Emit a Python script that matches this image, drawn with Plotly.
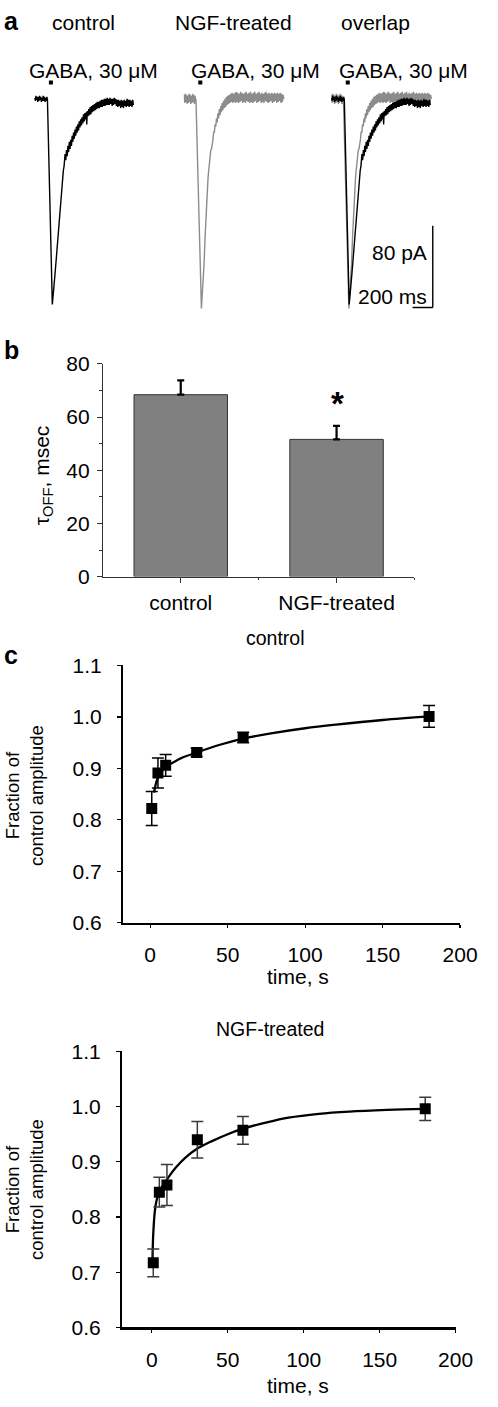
import plotly.graph_objects as go

W, H = 498, 1407
FONT = "Liberation Sans, Arial, Helvetica, sans-serif"


def fx(p):
    return p / W


def fy(p):
    return 1 - p / H


# ---------------- DATA ----------------
# panel a: GABA-evoked currents (time in ms, current in pA)
ctrl_trace = [
    (0, 1), (6, -2), (12, 3), (18, -1), (24, 2), (30, -3), (36, 2), (42, -2), (48, 3), (54, -1),
    (60, 2), (66, -3), (72, 1), (78, -2), (84, 3), (90, -2), (96, 2), (102, -3), (108, 1),
    (114, -2), (120, 2), (126, -1),
    (174, -201), (178, -195), (185, -190), (192, -181), (200, -172), (210, -160), (220, -147),
    (232, -132), (245, -116), (255, -103), (265, -90), (274, -80), (283, -70), (290, -66),
    (296, -61),
    (300, -54), (307, -60), (314, -50), (321, -56), (328, -46), (335, -52), (342, -42),
    (349, -49), (356, -40), (363, -46), (370, -36), (377, -42), (384, -33), (391, -39),
    (398, -30), (405, -36), (412, -27), (419, -33), (426, -25), (433, -31), (440, -22),
    (447, -28), (454, -20), (461, -26), (468, -18), (475, -24), (482, -15), (489, -22),
    (496, -14), (503, -20), (510, -13), (514, -25), (520, -12), (527, -17), (534, -10),
    (541, -16), (548, -8), (555, -15), (562, -7), (569, -13), (576, -6), (583, -12),
    (590, -5), (597, -11), (604, -4), (611, -10), (618, -3), (625, -9), (632, -3), (639, -9),
    (646, -2), (653, -8), (660, -1), (667, -8), (674, -1), (681, -7), (688, 0), (695, -7),
    (702, 0), (709, -6), (716, 1), (723, -6), (730, 0), (737, -6), (744, 1), (751, -5),
    (758, 0), (765, -7), (772, 0), (779, -6), (786, 1), (793, -5), (800, 0), (807, -7),
    (814, -1), (821, -8), (828, -1), (835, -7), (842, -2), (849, -9), (856, -1), (863, -8),
    (870, -2), (877, -9), (884, -1), (891, -7), (898, -2), (905, -8), (912, 0), (919, -7),
    (926, -1), (933, -8), (940, -1), (947, -7), (954, -2), (961, -8), (968, -1), (975, -6),
]
ngf_trace = [
    (0, 4), (6, -4), (12, 5), (18, -3), (24, 4), (30, -5), (36, 3), (42, -4), (48, 5), (54, -3),
    (60, 4), (66, -5), (72, 3), (78, -4), (84, 5), (90, -3), (96, 4), (102, -5), (108, 3),
    (114, -2), (117, 0),
    (171, -205), (176, -198), (182, -188), (190, -175), (197, -162), (206, -138), (215, -115),
    (222, -101), (230, -88), (236, -78), (243, -70), (250, -62), (257, -60), (264, -50),
    (271, -49), (278, -40), (285, -40), (292, -32), (299, -33), (306, -25), (313, -27),
    (320, -19), (327, -23), (334, -14), (341, -19), (348, -10), (355, -16), (362, -7),
    (369, -13), (376, -4), (383, -11), (390, -2), (397, -9), (404, 0), (411, -8), (418, 2),
    (425, -6), (432, 3), (439, -5), (446, 4), (453, -4), (460, 5), (467, -3), (474, 6),
    (481, -4), (488, 5), (495, -3), (502, 6), (509, -4), (516, 7), (523, -3), (530, 6),
    (537, -4), (544, 5), (551, -3), (558, 7), (565, -2), (572, 6), (579, -4), (586, 5),
    (593, -3), (600, 6), (607, -4), (614, 7), (621, -2), (628, 5), (635, -3), (642, 6),
    (649, -4), (656, 7), (663, -3), (670, 5), (677, -4), (684, 6), (691, -3), (698, 7),
    (705, -2), (712, 5), (719, -4), (726, 6), (733, -3), (740, 7), (747, -2), (754, 5),
    (761, -4), (768, 6), (775, -3), (782, 5), (789, -4), (796, 6), (803, -2), (810, 7),
    (817, -3), (824, 5), (831, -4), (838, 6), (845, -3), (852, 5), (859, -2), (866, 6),
    (873, -4), (880, 5), (887, -3), (894, 6), (901, -2), (908, 5), (915, -4), (922, 6),
    (929, -3), (936, 5), (943, -2), (950, 6), (957, -4), (964, 5), (971, -3), (978, 4),
    (985, 0),
]
gaba_pulse_ms = [140, 180]
scale_ms = 200
scale_pA = 80
panel_a_titles = ["control", "NGF-treated", "overlap"]
stim_label = "GABA, 30 μM"

# panel b: tau OFF
categories = ["control", "NGF-treated"]
tau_off = [68.4, 51.6]
tau_err = [5.4, 5.1]

# panel c: recovery
rec_time = [1, 5, 10, 30, 60, 180]
rec_ctrl = [0.822, 0.891, 0.906, 0.931, 0.960, 1.001]
rec_ctrl_err = [0.033, 0.029, 0.021, 0.008, 0.010, 0.021]
rec_ngf = [0.717, 0.845, 0.858, 0.940, 0.957, 0.996]
rec_ngf_err = [0.025, 0.027, 0.037, 0.033, 0.025, 0.021]
fit_ctrl_t = [2.5, 4, 6, 8, 10, 15, 20, 30, 45, 60, 80, 100, 120, 150, 180]
fit_ctrl_y = [0.853, 0.874, 0.888, 0.897, 0.903, 0.912, 0.920, 0.931, 0.946, 0.958,
              0.969, 0.978, 0.985, 0.994, 1.001]
fit_ngf_t = [0.5, 1, 2, 3, 4, 6, 9, 12, 16, 22, 30, 40, 50, 60, 75, 90, 110, 130, 155, 180]
fit_ngf_y = [0.726, 0.770, 0.810, 0.828, 0.838, 0.851, 0.864, 0.876, 0.890, 0.907,
             0.924, 0.938, 0.950, 0.960, 0.971, 0.980, 0.987, 0.991, 0.994, 0.996]

# ---------------- FIGURE ----------------
fig = go.Figure()
annotations = []
shapes = []

MS_PER_PX = 9.52
PX_PER_PA = 1.04
A_RANGE_X = [-5, 1010]
A_RANGE_Y = [-215, 25]
a_starts = [36, 191, 344]
a_base_py = 88.3
TRACE_W = 1.4

ct, ci = zip(*ctrl_trace)
nt, ni = zip(*ngf_trace)

layout_axes = {}
for k, x0 in enumerate(a_starts):
    n = k + 1
    xa = "x" if n == 1 else f"x{n}"
    ya = "y" if n == 1 else f"y{n}"
    dx0 = x0 + A_RANGE_X[0] / MS_PER_PX
    dx1 = x0 + A_RANGE_X[1] / MS_PER_PX
    dy_top = a_base_py - A_RANGE_Y[1] * PX_PER_PA
    dy_bot = a_base_py - A_RANGE_Y[0] * PX_PER_PA
    layout_axes["xaxis" if n == 1 else f"xaxis{n}"] = dict(
        domain=[fx(dx0), fx(dx1)], range=A_RANGE_X, visible=False, anchor=ya)
    layout_axes["yaxis" if n == 1 else f"yaxis{n}"] = dict(
        domain=[fy(dy_bot), fy(dy_top)], range=A_RANGE_Y, visible=False, anchor=xa)
    if n == 1:
        fig.add_trace(go.Scatter(x=ct, y=ci, mode="lines", line=dict(color="black", width=TRACE_W),
                                 xaxis=xa, yaxis=ya, showlegend=False))
    elif n == 2:
        fig.add_trace(go.Scatter(x=nt, y=ni, mode="lines", line=dict(color="#8c8c8c", width=TRACE_W),
                                 xaxis=xa, yaxis=ya, showlegend=False))
    else:
        fig.add_trace(go.Scatter(x=nt, y=ni, mode="lines", line=dict(color="#8c8c8c", width=TRACE_W),
                                 xaxis=xa, yaxis=ya, showlegend=False))
        fig.add_trace(go.Scatter(x=ct, y=ci, mode="lines", line=dict(color="black", width=TRACE_W),
                                 xaxis=xa, yaxis=ya, showlegend=False))
    shapes.append(dict(type="rect", xref=xa, yref=ya, x0=gaba_pulse_ms[0], x1=gaba_pulse_ms[1],
                       y0=14, y1=18, fillcolor="black", line=dict(width=0)))

# scale bars on overlap panel
shapes.append(dict(type="line", xref="x3", yref="y3", x0=1000, x1=1000, y0=-204, y1=-204 + scale_pA,
                   line=dict(color="black", width=1.5)))
shapes.append(dict(type="line", xref="x3", yref="y3", x0=1000 - scale_ms, x1=1000, y0=-204, y1=-204,
                   line=dict(color="black", width=1.5)))
annotations.append(dict(text=f"{scale_pA} pA", x=fx(445), y=fy(245), xref="paper", yref="paper",
                        xanchor="right", yanchor="middle", showarrow=False,
                        font=dict(size=21, color="black", family=FONT)))
annotations.append(dict(text=f"{scale_ms} ms", x=fx(445), y=fy(289), xref="paper", yref="paper",
                        xanchor="right", yanchor="middle", showarrow=False,
                        font=dict(size=21, color="black", family=FONT)))

for title, cx in zip(panel_a_titles, [87, 242.5, 390]):
    annotations.append(dict(text=title, x=fx(cx), y=fy(11), xref="paper", yref="paper",
                            xanchor="center", yanchor="middle", showarrow=False,
                            font=dict(size=21, color="black", family=FONT)))
for lx in [28, 196, 350]:
    annotations.append(dict(text=stim_label, x=fx(lx), y=fy(59), xref="paper", yref="paper",
                            xanchor="left", yanchor="middle", showarrow=False,
                            font=dict(size=21, color="black", family=FONT)))

# ---------- panel b ----------
xcat = list(range(len(categories)))
fig.add_trace(go.Bar(
    x=xcat, y=tau_off, width=0.6, marker=dict(color="#808080", line=dict(color="#333333", width=1)),
    error_y=dict(type="data", array=tau_err, arrayminus=[0] * len(tau_err), color="black",
                 thickness=2.2, width=3.5),
    xaxis="x4", yaxis="y4", showlegend=False))
layout_axes["xaxis4"] = dict(
    domain=[fx(106.7), fx(430)], range=[-0.5, 1.5], anchor="y4",
    tickvals=xcat, ticktext=categories, ticks="outside", ticklen=5, tickcolor="#333",
    showline=True, linecolor="#333", linewidth=1, showgrid=False, zeroline=False,
    minor=dict(tickvals=[0.5, 1.5], ticks="outside", ticklen=2, tickcolor="#333"),
    tickfont=dict(size=21, color="black", family=FONT), ticklabelstandoff=2)
layout_axes["yaxis4"] = dict(
    domain=[fy(574), fy(357.7)], range=[0, 80], anchor="x4",
    tickvals=[0, 20, 40, 60, 80], ticks="outside", ticklen=5, tickcolor="#333",
    showline=True, linecolor="#333", linewidth=1, showgrid=False, zeroline=False,
    minor=dict(tickvals=[10, 30, 50, 70], ticks="outside", ticklen=3, tickcolor="#333"),
    tickfont=dict(size=21, color="black", family=FONT), ticklabelstandoff=3)
annotations.append(dict(text="τ<sub>OFF</sub>, msec", x=fx(44.5), y=fy(471), xref="paper",
                        yref="paper", textangle=-90, xanchor="center", yanchor="middle",
                        showarrow=False, font=dict(size=21, color="black", family=FONT)))
annotations.append(dict(text="<b>*</b>", x=fx(350), y=fy(398), xref="paper", yref="paper",
                        xanchor="center", yanchor="middle", showarrow=False,
                        font=dict(size=33, color="black", family=FONT)))

# ---------- panel c ----------
c_panels = [
    dict(xa="x5", ya="y5", x=[127.7, 477.3], y=[926, 664.3], xr=[-17.5, 200],
         fit_t=fit_ctrl_t, fit_y=fit_ctrl_y, val=rec_ctrl, err=rec_ctrl_err, ecol="black",
         title="control", ty=636, tx=285.5, ylab_y=797, xlab_y=981),
    dict(xa="x6", ya="y6", x=[126.7, 472.7], y=[1337.3, 1056.7], xr=[-19.5, 200],
         fit_t=fit_ngf_t, fit_y=fit_ngf_y, val=rec_ngf, err=rec_ngf_err, ecol="#3a3a3a",
         title="NGF-treated", ty=1034, tx=280.5, ylab_y=1197.5, xlab_y=1396),
]
for p in c_panels:
    fig.add_trace(go.Scatter(x=p["fit_t"], y=p["fit_y"], mode="lines",
                             line=dict(color="black", width=2.3, shape="spline"),
                             xaxis=p["xa"], yaxis=p["ya"], showlegend=False))
    fig.add_trace(go.Scatter(x=rec_time, y=p["val"], mode="markers",
                             marker=dict(symbol="square", size=11, color="black"),
                             error_y=dict(type="data", array=p["err"], color=p["ecol"],
                                          thickness=1.5, width=6),
                             xaxis=p["xa"], yaxis=p["ya"], showlegend=False))
    n = p["xa"][1:]
    layout_axes[f"xaxis{n}"] = dict(
        domain=[fx(p["x"][0]), fx(p["x"][1])], range=p["xr"], anchor=p["ya"],
        tickvals=[0, 50, 100, 150, 200], ticks="outside", ticklen=3, tickwidth=1.2,
        tickcolor="black", showline=True, linecolor="black", linewidth=2.2,
        showgrid=False, zeroline=False, tickfont=dict(size=21, color="black", family=FONT),
        ticklabelstandoff=9)
    layout_axes[f"yaxis{n}"] = dict(
        domain=[fy(p["y"][0]), fy(p["y"][1])], range=[0.6, 1.1], anchor=p["xa"],
        tickvals=[0.6, 0.7, 0.8, 0.9, 1.0, 1.1], tickformat=".1f", ticks="outside",
        ticklen=4, tickwidth=1.2, tickcolor="black", showline=True, linecolor="black",
        linewidth=2.2, showgrid=False, zeroline=False,
        tickfont=dict(size=21, color="black", family=FONT), ticklabelstandoff=11)
    annotations.append(dict(text=p["title"], x=fx(p["tx"]), y=fy(p["ty"]), xref="paper",
                            yref="paper", xanchor="center", yanchor="middle", showarrow=False,
                            font=dict(size=19.5, color="black", family=FONT)))
    annotations.append(dict(text="Fraction of<br>control amplitude", x=fx(26), y=fy(p["ylab_y"]),
                            xref="paper", yref="paper", textangle=-90, xanchor="center",
                            yanchor="middle", showarrow=False,
                            font=dict(size=18.5, color="black", family=FONT)))
    annotations.append(dict(text="time, s", x=fx(309), y=fy(p["xlab_y"]), xref="paper",
                            yref="paper", xanchor="center", yanchor="middle", showarrow=False,
                            font=dict(size=21, color="black", family=FONT)))

# panel letters
for letter, py in [("a", 9), ("b", 344), ("c", 654)]:
    annotations.append(dict(text=f"<b>{letter}</b>", x=fx(2), y=fy(py), xref="paper",
                            yref="paper", xanchor="left", yanchor="middle", showarrow=False,
                            font=dict(size=25, color="black", family=FONT)))

fig.update_layout(
    width=W, height=H, margin=dict(l=0, r=0, t=0, b=0),
    paper_bgcolor="white", plot_bgcolor="white",
    font=dict(family=FONT, color="black"),
    annotations=annotations, shapes=shapes, bargap=0.4, hovermode=False,
    **layout_axes,
)

fig.write_html(
    "out.html",
    config={"displayModeBar": False, "staticPlot": True},
    post_script="document.body.style.margin='0';document.body.style.overflow='hidden';",
)
